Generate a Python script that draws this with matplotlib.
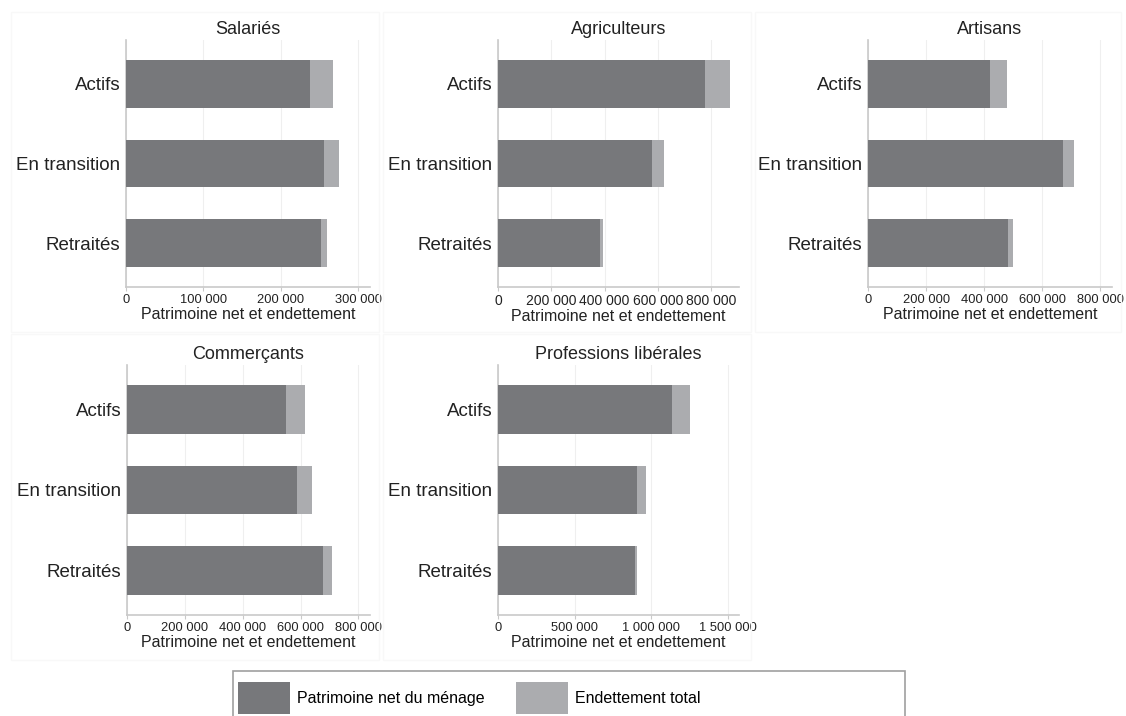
import matplotlib
matplotlib.use("Agg")
import matplotlib.pyplot as plt
from matplotlib.patches import Patch, Rectangle
from matplotlib.ticker import FuncFormatter

# categories
groupes = ["Actifs", "En transition", "Retraités"]
panels = ["Salariés", "Agriculteurs", "Artisans", "Commerçants", "Professions libérales"]

# patrimoine net du ménage / endettement total (euros)
net_salaries = [237000, 256000, 252000]
dette_salaries = [30000, 19000, 8000]
net_agriculteurs = [776000, 579000, 382000]
dette_agriculteurs = [96000, 44000, 10000]
net_artisans = [421000, 670000, 481000]
dette_artisans = [59000, 39000, 18000]
net_commercants = [548000, 589000, 679000]
dette_commercants = [69000, 50000, 29000]
net_liberales = [1137000, 909000, 891000]
dette_liberales = [113000, 58000, 18000]

# x axis ticks for each panel
ticks_salaries = [0, 100000, 200000, 300000]
ticks_agriculteurs = [0, 200000, 400000, 600000, 800000]
ticks_artisans = [0, 200000, 400000, 600000, 800000]
ticks_commercants = [0, 200000, 400000, 600000, 800000]
ticks_liberales = [0, 500000, 1000000, 1500000]

W, H = 1126, 716
DARK = "#77787b"
LIGHT = "#abacaf"
TXT = "#222222"
AXC = "#c9c9c9"

plt.rcParams["font.family"] = ["Liberation Sans", "DejaVu Sans"]

fig = plt.figure(figsize=(W / 100, H / 100), dpi=100)
fig.patch.set_facecolor("white")

# very faint frames of the combined graphs (pixels: left, top, right, bottom)
for (l, t, r, b) in [(11, 12, 379, 332), (383, 12, 751, 332), (755, 12, 1121, 332),
                     (11, 334, 379, 660), (383, 334, 751, 660)]:
    fig.patches.append(Rectangle((l / W, 1 - b / H), (r - l) / W, (b - t) / H,
                                 transform=fig.transFigure, facecolor="none",
                                 edgecolor="#f8f8f8", lw=1.0, zorder=0))

data = {
    "Salariés": (net_salaries, dette_salaries, ticks_salaries),
    "Agriculteurs": (net_agriculteurs, dette_agriculteurs, ticks_agriculteurs),
    "Artisans": (net_artisans, dette_artisans, ticks_artisans),
    "Commerçants": (net_commercants, dette_commercants, ticks_commercants),
    "Professions libérales": (net_liberales, dette_liberales, ticks_liberales),
}

# axes boxes in pixels (left, top, right, bottom), x limits, tick font size
boxes = [(126, 40, 370, 287), (498, 40, 739, 287), (868, 40, 1112, 287),
         (127, 365, 370, 615), (498, 365, 739, 615)]
xmax = [315000, 904000, 840000, 840000, 1571000]
tick_sizes = [9.3, 10.0, 9.3, 9.3, 9.3]

fmt = FuncFormatter(lambda v, p: f"{int(v):,}".replace(",", " "))

for i, name in enumerate(panels):
    net, dette, ticks = data[name]
    l, t, r, b = boxes[i]
    ax = fig.add_axes([l / W, 1 - b / H, (r - l) / W, (b - t) / H])
    y = list(range(len(groupes)))
    ax.barh(y, net, height=0.6, color=DARK, zorder=3)
    ax.barh(y, dette, left=net, height=0.6, color=LIGHT, zorder=3)

    ax.set_ylim(len(groupes) - 0.45, -0.55)
    ax.set_xlim(0, xmax[i])
    ax.set_yticks(y)
    ax.set_yticklabels(groupes, fontsize=13.5, color=TXT)
    ax.set_xticks(ticks)
    ax.xaxis.set_major_formatter(fmt)
    ax.tick_params(axis="y", length=0, pad=4)
    ax.tick_params(axis="x", length=3, width=0.8, color=AXC, pad=2,
                   labelsize=tick_sizes[i], labelcolor=TXT)
    ax.grid(axis="x", color="#efefef", lw=0.8, zorder=0)
    for s in ["top", "right"]:
        ax.spines[s].set_visible(False)
    for s in ["left", "bottom"]:
        ax.spines[s].set_color(AXC)
        ax.spines[s].set_linewidth(1.2)
    ax.set_xlabel("Patrimoine net et endettement", fontsize=11.5, color=TXT, labelpad=1)
    ax.set_title(name, fontsize=13, color=TXT, pad=4.5)

# legend, box runs off the bottom of the image
fig.patches.append(Rectangle((233 / W, -0.05), 672 / W, (716 - 671) / H + 0.05,
                             transform=fig.transFigure, facecolor="white",
                             edgecolor="#a0a0a0", lw=1.2, zorder=1))
handles = [Patch(facecolor=DARK, edgecolor="none"), Patch(facecolor=LIGHT, edgecolor="none")]
fig.legend(handles, ["Patrimoine net du ménage", "Endettement total"],
           loc="upper left", bbox_to_anchor=(238 / W, 1 - 682 / H), ncol=2,
           frameon=False, fontsize=11.5, handlelength=3.25, handleheight=2.7,
           handletextpad=0.45, columnspacing=1.95, borderpad=0, borderaxespad=0)

fig.savefig("out.png", dpi=100, facecolor="white")
